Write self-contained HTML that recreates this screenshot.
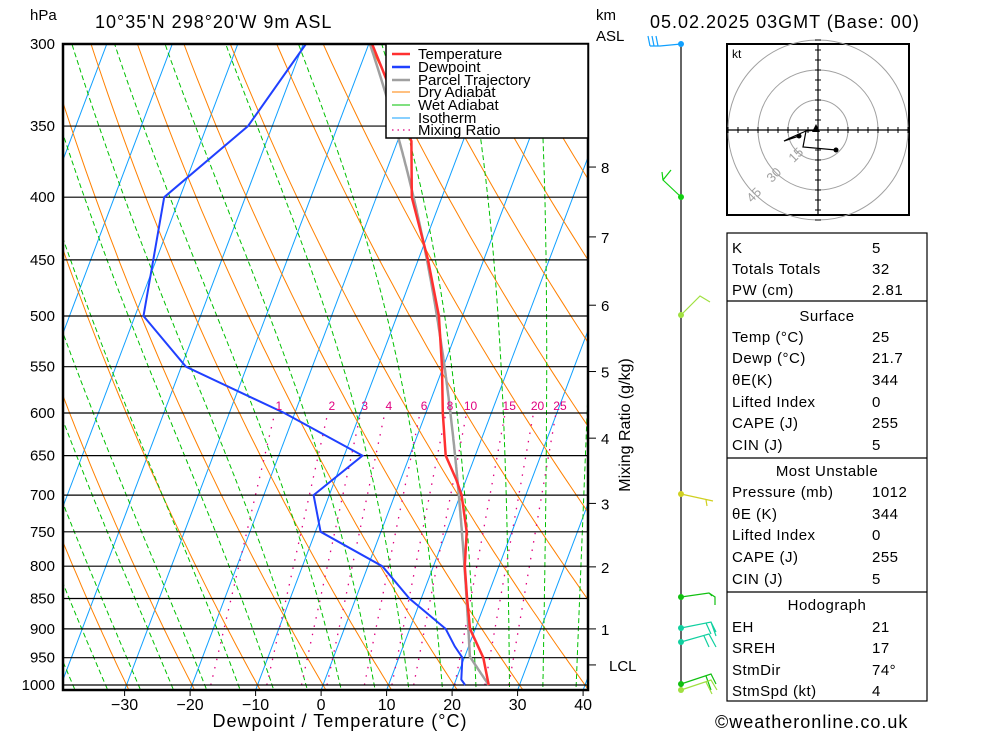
<!DOCTYPE html>
<html><head><meta charset="utf-8">
<style>
html,body{margin:0;padding:0;background:#fff;}
body{width:1000px;height:733px;overflow:hidden;font-family:"Liberation Sans",sans-serif;}
svg text{font-family:"Liberation Sans",sans-serif;}
</style></head>
<body>
<svg id="chart" width="1000" height="733" viewBox="0 0 1000 733" xmlns="http://www.w3.org/2000/svg">
<defs><clipPath id="plotclip"><rect x="63" y="44" width="525" height="646"/></clipPath></defs>
<text x="30" y="20" font-size="15">hPa</text>
<text x="95" y="28" font-size="18" letter-spacing="1">10°35'N  298°20'W  9m  ASL</text>
<text x="650" y="28" font-size="18" letter-spacing="1">05.02.2025  03GMT  (Base:  00)</text>
<text x="596" y="20" font-size="15">km</text>
<text x="596" y="41" font-size="15">ASL</text>
<g id="bg" clip-path="url(#plotclip)"></g>
<g id="plevels"></g>
<g id="profiles" clip-path="url(#plotclip)"></g>
<rect x="63" y="44" width="525" height="646" fill="none" stroke="#000" stroke-width="2.5"/>
<g id="xaxis"></g>
<text x="340" y="727" font-size="18" text-anchor="middle" letter-spacing="1">Dewpoint / Temperature (°C)</text>
<g id="kmaxis"></g>
<text transform="translate(630,425) rotate(-90)" font-size="16" text-anchor="middle">Mixing Ratio (g/kg)</text>
<g>
<rect x="386" y="44" width="202" height="94" fill="#fff" stroke="#000" stroke-width="1.5"/>
<g font-size="15">
<line x1="392" y1="54" x2="410" y2="54" stroke="#ff3030" stroke-width="2.5"/><text x="418" y="59">Temperature</text>
<line x1="392" y1="67" x2="410" y2="67" stroke="#2040ff" stroke-width="2.5"/><text x="418" y="72">Dewpoint</text>
<line x1="392" y1="80" x2="410" y2="80" stroke="#a0a0a0" stroke-width="2.5"/><text x="418" y="85">Parcel Trajectory</text>
<line x1="392" y1="92" x2="410" y2="92" stroke="#ff8000" stroke-width="1"/><text x="418" y="97">Dry Adiabat</text>
<line x1="392" y1="105" x2="410" y2="105" stroke="#00c000" stroke-width="1"/><text x="418" y="110">Wet Adiabat</text>
<line x1="392" y1="118" x2="410" y2="118" stroke="#10a0ff" stroke-width="1"/><text x="418" y="123">Isotherm</text>
<line x1="392" y1="130" x2="410" y2="130" stroke="#e0007f" stroke-width="1.2" stroke-dasharray="1.5,4"/><text x="418" y="135">Mixing Ratio</text>
</g></g>

<g>
<line x1="681" y1="44" x2="681" y2="690" stroke="#000" stroke-width="1.2"/>
<g fill="none" stroke-width="1.2">
<path d="M681,44 L660,46 L650,46 M650,46 L648,36 M654,46 L652,36 M658,46 L656,36" stroke="#10a0ff"/>
<path d="M681,197 L663,180 L671,170 M663,180 L662,172" stroke="#10d010"/>
<path d="M681,315 L700,296 L710,302" stroke="#a0e040"/>
<path d="M681,494 L713,501 M706,500 L707,506" stroke="#d0d020"/>
<path d="M681,597 L709,593 L715,597 L715,605 M709,593 L712,596" stroke="#10c010"/>
<path d="M681,628 L711,622 L716,632 M711,622 L716,636 M706,623 L711,634" stroke="#10d0a0"/>
<path d="M681,642 L709,634 L716,647 M704,636 L709,647" stroke="#10d0a0"/>
<path d="M681,684 L711,674 L716,684 M706,676 L711,690" stroke="#10c010"/>
<path d="M681,690 L711,680 L717,690 M706,682 L712,694" stroke="#a0e040"/>
</g>
<circle cx="681" cy="44" r="3" fill="#10a0ff"/><circle cx="681" cy="197" r="3" fill="#10d010"/>
<circle cx="681" cy="315" r="3" fill="#a0e040"/><circle cx="681" cy="494" r="3" fill="#d0d020"/>
<circle cx="681" cy="597" r="3" fill="#10c010"/><circle cx="681" cy="628" r="3" fill="#10d0a0"/>
<circle cx="681" cy="642" r="3" fill="#10d0a0"/><circle cx="681" cy="684" r="3" fill="#10c010"/>
<circle cx="681" cy="690" r="3" fill="#a0e040"/>
</g>

<g>
<rect x="727" y="44" width="182" height="171" fill="#fff" stroke="#000" stroke-width="2"/>
<g fill="none" stroke="#a0a0a0" stroke-width="1">
<circle cx="818" cy="130" r="30"/><circle cx="818" cy="130" r="60"/><circle cx="818" cy="130" r="90"/>
</g>
<line x1="727" y1="130" x2="909" y2="130" stroke="#000" stroke-width="1.2"/>
<line x1="818" y1="44" x2="818" y2="215" stroke="#000" stroke-width="1.2"/>
<g stroke="#000" stroke-width="1" id="hodoticks"></g>
<text x="732" y="58" font-size="12">kt</text>
<g fill="#a0a0a0" font-size="13">
<text transform="translate(799,158) rotate(-45)" text-anchor="middle">15</text>
<text transform="translate(777,178) rotate(-45)" text-anchor="middle">30</text>
<text transform="translate(757,198) rotate(-45)" text-anchor="middle">45</text>
</g>
<path d="M817,130 L806,131 L803,147 L836,150 M806,131 L790,138 L784,141 L799,136" fill="none" stroke="#000" stroke-width="1.2"/>
<polygon points="812,132 816,124 820,132" fill="#000"/>
<circle cx="799" cy="136" r="2.5" fill="#000"/><circle cx="836" cy="150" r="2.5" fill="#000"/>
</g>

<g font-size="15">
<rect x="727" y="233" width="200" height="468" fill="#fff" stroke="#000" stroke-width="1.2"/>
<line x1="727" y1="301" x2="927" y2="301" stroke="#000" stroke-width="1.2"/>
<line x1="727" y1="458" x2="927" y2="458" stroke="#000" stroke-width="1.2"/>
<line x1="727" y1="592" x2="927" y2="592" stroke="#000" stroke-width="1.2"/>
<g id="tbl"></g>
</g>
<text x="715" y="728" font-size="18" letter-spacing="1">©weatheronline.co.uk</text>
</svg>
<script>
// Sounding data
const pressures = [1000, 950, 900, 850, 800, 750, 700, 680, 650, 600, 550, 500, 450, 400, 360, 300];
const temps     = [25.3, 22.9, 19.2, 17.0, 14.8, 13.1, 10.2, 8.5, 5.5, 2.6, -0.2, -3.6, -8.5, -14.6, -17.9, -29.5];
const dewPres   = [1000, 990, 950, 930, 900, 850, 800, 750, 700, 650, 600, 550, 500, 400, 350, 300];
const dewpts    = [21.7, 20.8, 19.7, 17.9, 15.5, 8.2, 2.2, -9.2, -12.4, -7.2, -21.6, -39.3, -48.7, -52.4, -43.7, -39.6];
const pLevels = [300, 350, 400, 450, 500, 550, 600, 650, 700, 750, 800, 850, 900, 950, 1000];
const tTicks = [-30, -20, -10, 0, 10, 20, 30, 40];
const mixRatios = [1, 2, 3, 4, 6, 8, 10, 15, 20, 25];
const kmLabels = ['8', '7', '6', '5', '4', '3', '2', '1', 'LCL'];
const kmPres = [378, 431, 490, 555, 629, 711, 801, 900, 963];
const surfT = 25.3, surfTd = 21.7;

const NS = 'http://www.w3.org/2000/svg';
function yP(p){ return 44 + Math.log(p/300)/Math.log(1000/300)*641; }
function xTP(T,p){ return 323 + 6.55*T + 0.378*(685 - yP(p)); }
function mk(tag, attrs, parent){ const e=document.createElementNS(NS,tag); for(const k in attrs) e.setAttribute(k,attrs[k]); parent.appendChild(e); return e; }
function poly(pts, parent, style){ return mk('polyline', Object.assign({points: pts.map(q=>q[0].toFixed(1)+','+q[1].toFixed(1)).join(' '), fill:'none'}, style), parent); }
const bg = document.getElementById('bg');
const prof = document.getElementById('profiles');

for (let T=-120; T<=50; T+=10){
  const l = poly([[xTP(T,1050),yP(1050)],[xTP(T,290),yP(290)]], bg, {stroke:'#10a0ff','stroke-width':1});
  
  
}
for (let t0=-60; t0<=130; t0+=10){
  const th = t0+273.15, pts=[];
  for (let p=1050; p>=290; p-=10) pts.push([xTP(th*Math.pow(p/1000,0.2857)-273.15,p), yP(p)]);
  const l = poly(pts, bg, {stroke:'#ff8000','stroke-width':1});
  
  
}
function es(T){ return 6.112*Math.exp(17.67*T/(T+243.5)); }
function moistPath(T0, p0, pEnd){
  let T=T0+273.15; const pts=[[T0,p0]];
  for (let p=p0; p>pEnd; p-=2){
    const rs = 0.622*es(T-273.15)/(p-es(T-273.15));
    const dTdp = (287*T + 2.5e6*rs)/(p*(1005 + 2.5e6*2.5e6*rs*0.622/(287*T*T)));
    T -= dTdp*2;
    pts.push([T-273.15, p-2]);
  }
  return pts;
}
for (let t0=-35; t0<=40; t0+=5){
  const pts = moistPath(t0, 1050, 290).map(q=>[xTP(q[0],q[1]), yP(q[1])]);
  const l = poly(pts, bg, {stroke:'#00c000','stroke-width':1,'stroke-dasharray':'5,3'});
  
  
}
function tdMix(w,p){ const e=w*p/(622+w); const a=Math.log(e/6.112); return 243.5*a/(17.67-a); }
mixRatios.forEach(w=>{
  const l = poly([[xTP(tdMix(w,1000),1000),yP(1000)],[xTP(tdMix(w,600),600),yP(600)]], bg, {stroke:'#e0007f','stroke-width':1.3,'stroke-dasharray':'1.5,7'});
  
  
  const t = mk('text',{x:xTP(tdMix(w,600),600)+4, y:410, 'font-size':12, fill:'#e0007f','text-anchor':'middle'}, document.getElementById('chart'));
  t.textContent = w;
  
  
});
const pl = document.getElementById('plevels');
pLevels.forEach(p=>{
  const y=yP(p);
  const l = mk('line',{x1:63,x2:588,y1:y,y2:y,stroke:'#000','stroke-width':1.2},pl);
  
  
  const t = mk('text',{x:55,y:y+5,'font-size':15,'text-anchor':'end'},pl);
  t.textContent = p;
  
  
});
const xa = document.getElementById('xaxis');
tTicks.forEach(T=>{
  const x = 323+6.55*T - 1.9;
  mk('line',{x1:x,x2:x,y1:690,y2:696,stroke:'#000'},xa);
  const t = mk('text',{x:x,y:710,'font-size':16,'text-anchor':'middle'},xa);
  t.textContent = T<0 ? '\u2212'+(-T) : T;
  
  
});
const ka = document.getElementById('kmaxis');
kmLabels.forEach((lab,i)=>{
  const y = yP(kmPres[i]);
  mk('line',{x1:588,x2:596,y1:y,y2:y,stroke:'#000'},ka);
  const t = mk('text',{x: lab==='LCL'?609:601, y:y+6,'font-size':15},ka);
  t.textContent = lab;
  
  
});
(function(){
  let p=1000, T=surfT, pts=[];
  const th=T+273.15; const w = 622*es(surfTd)/(1000-es(surfTd));
  for (; p>=300; p-=2){
    const Tp = th*Math.pow(p/1000,0.2857)-273.15;
    pts.push([Tp,p]);
    if (Tp <= tdMix(w,p)) break;
  }
  const last = pts[pts.length-1];
  const all = pts.concat(moistPath(last[0], last[1], 300));
  const l = poly(all.map(q=>[xTP(q[0],q[1]),yP(q[1])]), prof, {stroke:'#a0a0a0','stroke-width':2.5});
  
  
})();
const tl = poly(pressures.map((p,i)=>[xTP(temps[i],p),yP(p)]), prof, {stroke:'#ff3030','stroke-width':2.5});


const dl = poly(dewPres.map((p,i)=>[xTP(dewpts[i],p),yP(p)]), prof, {stroke:'#2040ff','stroke-width':2});


const ht = document.getElementById('hodoticks');
for (let i=-9;i<=9;i++){ if(!i) continue;
  mk('line',{x1:818+i*10,x2:818+i*10,y1:127,y2:133},ht);
  mk('line',{x1:815,x2:821,y1:130+i*10,y2:130+i*10},ht);
}
const rows = [
 [['K',732],['5',872],254],[['Totals Totals',732],['32',872],275],[['PW (cm)',732],['2.81',872],296],
 [['Surface',827,'middle'],null,322],
 [['Temp (°C)',732],['25',872],343],[['Dewp (°C)',732],['21.7',872],364],[['θE(K)',732],['344',872],386],
 [['Lifted Index',732],['0',872],408],[['CAPE (J)',732],['255',872],429],[['CIN (J)',732],['5',872],451],
 [['Most Unstable',827,'middle'],null,477],
 [['Pressure (mb)',732],['1012',872],498],[['θE (K)',732],['344',872],520],[['Lifted Index',732],['0',872],541],
 [['CAPE (J)',732],['255',872],563],[['CIN (J)',732],['5',872],585],
 [['Hodograph',827,'middle'],null,611],
 [['EH',732],['21',872],633],[['SREH',732],['17',872],654],[['StmDir',732],['74°',872],676],[['StmSpd (kt)',732],['4',872],697]
];
const tb = document.getElementById('tbl');
rows.forEach(r=>{
  const a = mk('text',{x:r[0][1],y:r[2]-1,'text-anchor':r[0][2]||'start','letter-spacing':0.5},tb);
  a.textContent = r[0][0];
  
  
  if (r[1]){ const b = mk('text',{x:r[1][1],y:r[2]-1,'letter-spacing':0.5},tb);
    b.textContent = r[1][0];
    
     }
});
</script>
</body></html>
